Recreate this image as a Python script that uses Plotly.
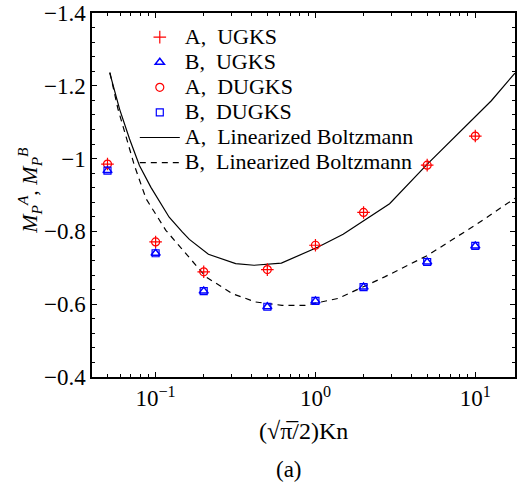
import numpy as np
import plotly.graph_objects as go

# Normalized Knudsen number, (sqrt(pi)/2) Kn
kn_pts = [0.05, 0.1, 0.2, 0.5, 1.0, 2.0, 5.0, 10.0]

# Mass-flow coefficients at the sampled points
a_ugks = [-0.985, -0.771, -0.689, -0.695, -0.762, -0.852, -0.982, -1.062]
a_dugks = [-0.985, -0.771, -0.689, -0.695, -0.762, -0.852, -0.982, -1.062]
b_ugks = [-0.967, -0.740, -0.636, -0.593, -0.609, -0.647, -0.716, -0.760]
b_dugks = [-0.967, -0.740, -0.636, -0.593, -0.609, -0.647, -0.716, -0.760]

# Linearized Boltzmann reference curves
lb_a_kn = [0.0516, 0.0595, 0.0687, 0.0792, 0.0935, 0.1216, 0.1472, 0.1626,
           0.214, 0.317, 0.412, 0.612, 1.04, 1.49, 2.91, 5.03, 12.6, 17.7]
lb_a = [-1.236, -1.136, -1.054, -0.981, -0.921, -0.839, -0.798, -0.778,
        -0.737, -0.7115, -0.707, -0.713, -0.757, -0.792, -0.876, -0.9855,
        -1.159, -1.235]
lb_b_kn = [0.0518, 0.0581, 0.0737, 0.0871, 0.1159, 0.1477, 0.2065, 0.302,
           0.4225, 0.618, 0.863, 1.39, 2.71, 5.03, 10.3, 17.7]
lb_b = [-1.236, -1.137, -0.981, -0.890, -0.803, -0.748, -0.675, -0.629,
        -0.606, -0.597, -0.597, -0.616, -0.675, -0.734, -0.821, -0.891]

x_tickvals = [0.1, 1, 10]
x_ticktext = ["10<sup>\u22121</sup>", "10<sup>0</sup>", "10<sup>1</sup>"]
y_tickvals = [-1.4, -1.2, -1.0, -0.8, -0.6, -0.4]
y_ticktext = ["\u22121.4", "\u22121.2", "\u22121", "\u22120.8", "\u22120.6", "\u22120.4"]

FONT = "Liberation Serif"
RED = "#ff0000"
BLUE = "#0000ff"
SP = "\u00a0"


def entry(label):
    # legend rows keep a compact pitch while the label itself is drawn larger
    return f"<span style='font-size:22px'>{label}</span>"


fig = go.Figure()

fig.add_trace(go.Scatter(
    x=lb_a_kn, y=lb_a, mode="lines", name=entry(f"A,{SP}{SP}Linearized Boltzmann"),
    line=dict(color="black", width=1.2), legendrank=5))
fig.add_trace(go.Scatter(
    x=lb_b_kn, y=lb_b, mode="lines", name=entry(f"B,{SP}{SP}Linearized Boltzmann"),
    line=dict(color="black", width=1.2, dash="6px,5px"), legendrank=6))

fig.add_trace(go.Scatter(
    x=kn_pts, y=a_ugks, mode="markers", name=entry(f"A,{SP}{SP}UGKS"),
    marker=dict(symbol="cross-thin", size=9, color=RED,
                line=dict(color=RED, width=1.2)), legendrank=1))
fig.add_trace(go.Scatter(
    x=kn_pts, y=b_ugks, mode="markers", name=entry(f"B,{SP}{SP}UGKS"),
    marker=dict(symbol="triangle-up-open", size=8, color=BLUE,
                line=dict(color=BLUE, width=1.5)), legendrank=2))
fig.add_trace(go.Scatter(
    x=kn_pts, y=a_dugks, mode="markers", name=entry(f"A,{SP}{SP}DUGKS"),
    marker=dict(symbol="circle-open", size=8, color=RED,
                line=dict(color=RED, width=1.2)), legendrank=3))
fig.add_trace(go.Scatter(
    x=kn_pts, y=b_dugks, mode="markers", name=entry(f"B,{SP}{SP}DUGKS"),
    marker=dict(symbol="square-open", size=7, color=BLUE,
                line=dict(color=BLUE, width=1.2)), legendrank=4))

axis_common = dict(
    showline=True, linecolor="black", linewidth=1.5, mirror="ticks",
    ticks="inside", ticklen=5, tickwidth=1, tickcolor="black",
    showgrid=False, zeroline=False,
    tickfont=dict(family=FONT, size=23, color="black"),
)

fig.update_xaxes(
    type="log", range=[np.log10(0.04), np.log10(17.72)],
    tickvals=x_tickvals, ticktext=x_ticktext,
    minor=dict(ticks="inside", ticklen=3, tickwidth=1, tickcolor="black",
               dtick="D1", showgrid=False),
    **axis_common)
fig.update_yaxes(
    range=[-0.4, -1.4],
    tickvals=y_tickvals, ticktext=y_ticktext,
    minor=dict(ticks="inside", ticklen=3, tickwidth=1, tickcolor="black",
               dtick=0.04, tick0=-1.4, showgrid=False),
    **axis_common)

fig.add_annotation(
    xref="paper", yref="paper", x=(29 - 92) / 425, y=(377 - 190) / 365,
    xanchor="center", yanchor="middle", textangle=-90,
    text="<i>M</i><sub><i>P</i></sub><sup><i>A</i></sup>, <i>M</i><sub><i>P</i></sub><sup><i>B</i></sup>",
    showarrow=False, font=dict(family=FONT, size=22, color="black"))
fig.add_annotation(
    xref="paper", yref="paper", x=0.5, y=(377 - 431) / 365,
    xanchor="center", yanchor="middle",
    text="(\u221a\u03c0\u0305/2)Kn",
    showarrow=False, font=dict(family=FONT, size=24, color="black"))
fig.add_annotation(
    xref="paper", yref="paper", x=(290 - 92) / 425, y=(377 - 470) / 365,
    xanchor="center", yanchor="middle",
    text="(a)", showarrow=False, font=dict(family=FONT, size=23, color="black"))

fig.update_layout(
    width=518, height=491,
    margin=dict(l=92, r=1, t=12, b=114),
    paper_bgcolor="white", plot_bgcolor="white",
    font=dict(family=FONT, size=20, color="black"),
    showlegend=True,
    legend=dict(x=(135 - 92) / 425, y=0.982, xanchor="left", yanchor="top",
                bgcolor="rgba(0,0,0,0)", borderwidth=0, itemwidth=40,
                font=dict(family=FONT, size=17, color="black"),
                tracegroupgap=0),
)

fig.write_html("out.html")
